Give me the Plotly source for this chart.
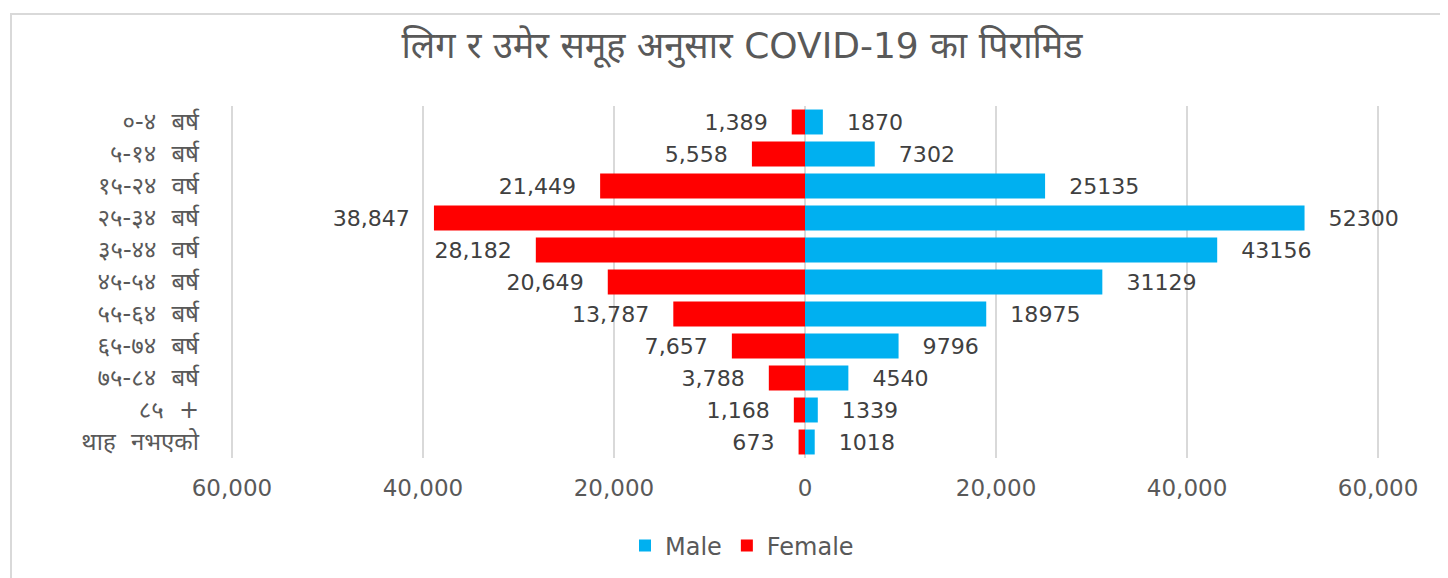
import plotly.graph_objects as go

categories = ["०-४  बर्ष", "५-१४  बर्ष", "१५-२४  वर्ष", "२५-३४  बर्ष", "३५-४४  वर्ष",
              "४५-५४  बर्ष", "५५-६४  बर्ष", "६५-७४  बर्ष", "७५-८४  बर्ष", "८५  +", "थाह  नभएको"]
male = [1870, 7302, 25135, 52300, 43156, 31129, 18975, 9796, 4540, 1339, 1018]
female = [1389, 5558, 21449, 38847, 28182, 20649, 13787, 7657, 3788, 1168, 673]
tick_vals = [-60000, -40000, -20000, 0, 20000, 40000, 60000]
tick_text = ["60,000", "40,000", "20,000", "0", "20,000", "40,000", "60,000"]
title = "लिग र उमेर समूह अनुसार COVID-19 का पिरामिड"

FONT = "DejaVu Sans, Noto Sans Devanagari, Noto Sans, sans-serif"
pad = "\u00a0\u00a0\u00a0"

fig = go.Figure()
fig.add_trace(go.Bar(
    y=categories, x=male, orientation="h", name="Male",
    marker=dict(color="#00B0F0", line=dict(width=0)),
    texttemplate=pad + "%{x:d}", textposition="outside", cliponaxis=False,
    textfont=dict(family=FONT, size=23, color="#404040"),
    hoverinfo="skip",
))
fig.add_trace(go.Bar(
    y=categories, x=[-v for v in female], customdata=female, orientation="h", name="Female",
    marker=dict(color="#FF0000", line=dict(width=0)),
    texttemplate="%{customdata:,}" + pad, textposition="outside", cliponaxis=False,
    textfont=dict(family=FONT, size=23, color="#404040"),
    hoverinfo="skip",
))

W, H = 1448, 578
OFF = 8  # page body margin
X_LO, X_HI = -60200, 60200
px_per = (1378 - 232) / 120000
L = round(232 - OFF - (-60000 - X_LO) * px_per)
pw = round((X_HI - X_LO) * px_per)
R = W - L - pw
T, B = 106 - OFF, H - (458 - OFF)
ph = H - T - B

def px_x(x):
    return (x - OFF - L) / pw

def px_y(y):
    return (H - B - (y - OFF)) / ph

cx = (742 - OFF) / W

fig.update_layout(
    width=W, height=H,
    margin=dict(l=L, r=R, t=T, b=B),
    paper_bgcolor="white", plot_bgcolor="white",
    barmode="relative", bargap=0.22,
    font=dict(family=FONT, size=22, color="#595959"),
    title=dict(text=title, x=cx, xref="container", xanchor="center",
               y=1 - (45 - OFF) / H, yref="container", yanchor="middle",
               font=dict(family=FONT, size=36, color="#595959")),
    legend=dict(orientation="h", x=cx, xref="container", xanchor="center",
                y=1 - (546 - OFF) / H, yref="container", yanchor="middle",
                font=dict(family=FONT, size=24, color="#595959"),
                traceorder="normal", itemwidth=30),
    xaxis=dict(range=[X_LO, X_HI], tickvals=tick_vals, ticktext=tick_text,
               showgrid=True, gridcolor="#D9D9D9", gridwidth=1.5,
               zeroline=True, zerolinecolor="#D9D9D9", zerolinewidth=1.5,
               showline=False, ticks="", ticklabelstandoff=14,
               tickfont=dict(family=FONT, size=23, color="#595959")),
    yaxis=dict(autorange="reversed", showgrid=False, zeroline=False, showline=False,
               ticks="", ticklabelstandoff=30,
               tickfont=dict(family=FONT, size=24, color="#595959")),
    shapes=[dict(type="rect", xref="paper", yref="paper",
                 x0=px_x(11), x1=px_x(1470), y0=px_y(620), y1=px_y(14),
                 line=dict(color="#D9D9D9", width=2), fillcolor="rgba(0,0,0,0)", layer="below")],
)

fig.write_html("out.html")
